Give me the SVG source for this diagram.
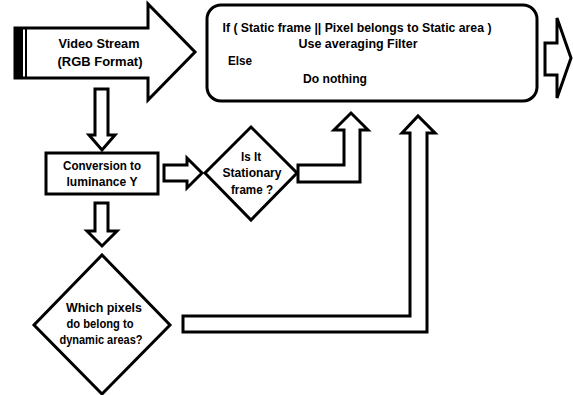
<svg xmlns="http://www.w3.org/2000/svg" width="573" height="395" viewBox="0 0 573 395">
  <style>
    .shape { fill: #ffffff; stroke: #000000; stroke-width: 3; stroke-linejoin: miter; }
    .label { font-family: "Liberation Sans", Arial, sans-serif; font-weight: bold; font-size: 12px; fill: #000000; }
    .mid { text-anchor: middle; }
  </style>
  <rect width="573" height="395" fill="#ffffff"/>

  <!-- Input stream arrow -->
  <g id="video-stream">
    <polygon class="shape" points="15,28 148,28 148,4 195,52 148,100 148,78 15,78"/>
    <rect x="15" y="28" width="8" height="50" fill="#000000"/>
    <line x1="26" y1="28" x2="26" y2="78" stroke="#000000" stroke-width="2"/>
    <text class="label mid" x="99" y="48" font-size="13" textLength="81" lengthAdjust="spacingAndGlyphs">Video Stream</text>
    <text class="label mid" x="100" y="66" font-size="13" textLength="85" lengthAdjust="spacingAndGlyphs">(RGB Format)</text>
  </g>

  <!-- Filter decision block -->
  <g id="filter-block">
    <rect class="shape" x="207" y="5" width="330" height="96" rx="14" ry="14"/>
    <text class="label mid" x="357" y="32" font-size="12.5" textLength="269" lengthAdjust="spacingAndGlyphs">If ( Static frame || Pixel belongs to Static area )</text>
    <text class="label mid" x="358" y="48" font-size="12.5" textLength="119" lengthAdjust="spacingAndGlyphs">Use averaging Filter</text>
    <text class="label" x="228" y="65" font-size="12.5" textLength="24" lengthAdjust="spacingAndGlyphs">Else</text>
    <text class="label mid" x="335" y="83" font-size="12.5" textLength="64" lengthAdjust="spacingAndGlyphs">Do nothing</text>
  </g>

  <!-- Output arrow -->
  <g id="output">
    <polygon class="shape" points="545,43 557,43 557,18 571,58 557,98 557,75 545,75"/>
  </g>

  <!-- Luminance conversion -->
  <g id="luminance">
    <rect class="shape" x="46" y="153" width="112" height="41"/>
    <text class="label mid" x="102" y="170" textLength="78" lengthAdjust="spacingAndGlyphs">Conversion to</text>
    <text class="label mid" x="102" y="186" textLength="71" lengthAdjust="spacingAndGlyphs">luminance Y</text>
  </g>

  <!-- Stationary frame check -->
  <g id="stationary-check">
    <polygon class="shape" points="251,127 297,173 251,220 205,173"/>
    <text class="label mid" x="251" y="161" textLength="20" lengthAdjust="spacingAndGlyphs">Is It</text>
    <text class="label mid" x="252" y="177" textLength="59" lengthAdjust="spacingAndGlyphs">Stationary</text>
    <text class="label mid" x="252" y="194" textLength="42" lengthAdjust="spacingAndGlyphs">frame ?</text>
  </g>

  <!-- Dynamic area check -->
  <g id="dynamic-check">
    <polygon class="shape" points="102,255 170,325 102,394 34,325"/>
    <text class="label mid" x="104" y="312" textLength="76" lengthAdjust="spacingAndGlyphs">Which pixels</text>
    <text class="label mid" x="100" y="328" textLength="67" lengthAdjust="spacingAndGlyphs">do belong to</text>
    <text class="label mid" x="101" y="344" textLength="83" lengthAdjust="spacingAndGlyphs">dynamic areas?</text>
  </g>

  <!-- Block arrows between steps -->
  <g id="connectors">
    <polygon class="shape" points="95,89 108,89 108,135 115,135 102,150 89,135 95,135"/>
    <polygon class="shape" points="95,203 108,203 108,231 117,231 102,246 87,231 95,231"/>
    <polygon class="shape" points="164,165 187,165 187,158 202,173 187,188 187,181 164,181"/>
    <polygon class="shape" points="298,165 344,165 344,130 334,130 351,113 368,130 360,130 360,182 298,182"/>
    <polygon class="shape" points="183,316 410,316 410,133 402,133 418,116 435,133 427,133 427,332 183,332"/>
  </g>
</svg>
